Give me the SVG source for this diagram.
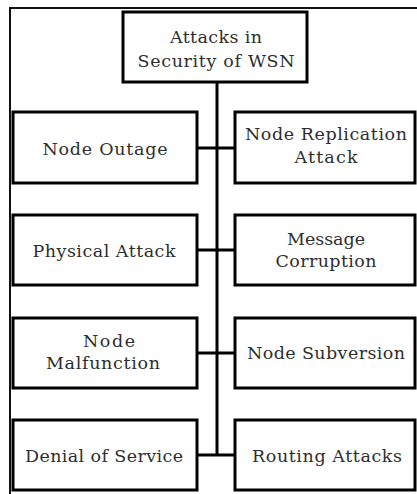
<svg xmlns="http://www.w3.org/2000/svg" width="417" height="494" viewBox="0 0 417 494">
<style>
.box{fill:#fff;stroke:#000;stroke-width:3}
.t{font-family:"DejaVu Serif","Liberation Serif",serif;font-size:17.5px;fill:#2e2e2e;text-anchor:middle}
.c{stroke:#000;stroke-width:3;fill:none}
</style>
<rect width="417" height="494" fill="#fff"/>
<polyline points="10,494 10,8 417,8" fill="none" stroke="#111" stroke-width="2"/>
<g id="connectors">
<line class="c" x1="217" y1="82" x2="217" y2="456"/>
<line class="c" x1="197" y1="148" x2="235" y2="148"/>
<line class="c" x1="197" y1="250" x2="235" y2="250"/>
<line class="c" x1="197" y1="353" x2="235" y2="353"/>
<line class="c" x1="197" y1="455" x2="235" y2="455"/>
</g>
<g id="root">
<rect class="box" x="123" y="12" width="184" height="70"/>
<text class="t" x="216" y="43" textLength="92" lengthAdjust="spacing">Attacks in</text>
<text class="t" x="216" y="67" textLength="157" lengthAdjust="spacing">Security of WSN</text>
</g>
<g id="node-outage">
<rect class="box" x="13" y="112" width="184" height="71"/>
<text class="t" x="105" y="155" textLength="125" lengthAdjust="spacing">Node Outage</text>
</g>
<g id="node-replication">
<rect class="box" x="235" y="112" width="180" height="71"/>
<text class="t" x="326" y="140" textLength="162" lengthAdjust="spacing">Node Replication</text>
<text class="t" x="326" y="163" textLength="63" lengthAdjust="spacing">Attack</text>
</g>
<g id="physical-attack">
<rect class="box" x="13" y="215" width="184" height="70"/>
<text class="t" x="104" y="257" textLength="143" lengthAdjust="spacing">Physical Attack</text>
</g>
<g id="message-corruption">
<rect class="box" x="235" y="215" width="180" height="70"/>
<text class="t" x="326" y="245" textLength="78" lengthAdjust="spacing">Message</text>
<text class="t" x="326" y="267" textLength="101" lengthAdjust="spacing">Corruption</text>
</g>
<g id="node-malfunction">
<rect class="box" x="13" y="318" width="184" height="70"/>
<text class="t" x="109" y="347" textLength="52" lengthAdjust="spacing">Node</text>
<text class="t" x="103" y="369" textLength="114" lengthAdjust="spacing">Malfunction</text>
</g>
<g id="node-subversion">
<rect class="box" x="235" y="318" width="180" height="70"/>
<text class="t" x="326" y="359" textLength="158" lengthAdjust="spacing">Node Subversion</text>
</g>
<g id="denial-of-service">
<rect class="box" x="13" y="420" width="184" height="70"/>
<text class="t" x="104" y="462" textLength="158" lengthAdjust="spacing">Denial of Service</text>
</g>
<g id="routing-attacks">
<rect class="box" x="235" y="420" width="180" height="70"/>
<text class="t" x="327" y="462" textLength="150" lengthAdjust="spacing">Routing Attacks</text>
</g>
</svg>
